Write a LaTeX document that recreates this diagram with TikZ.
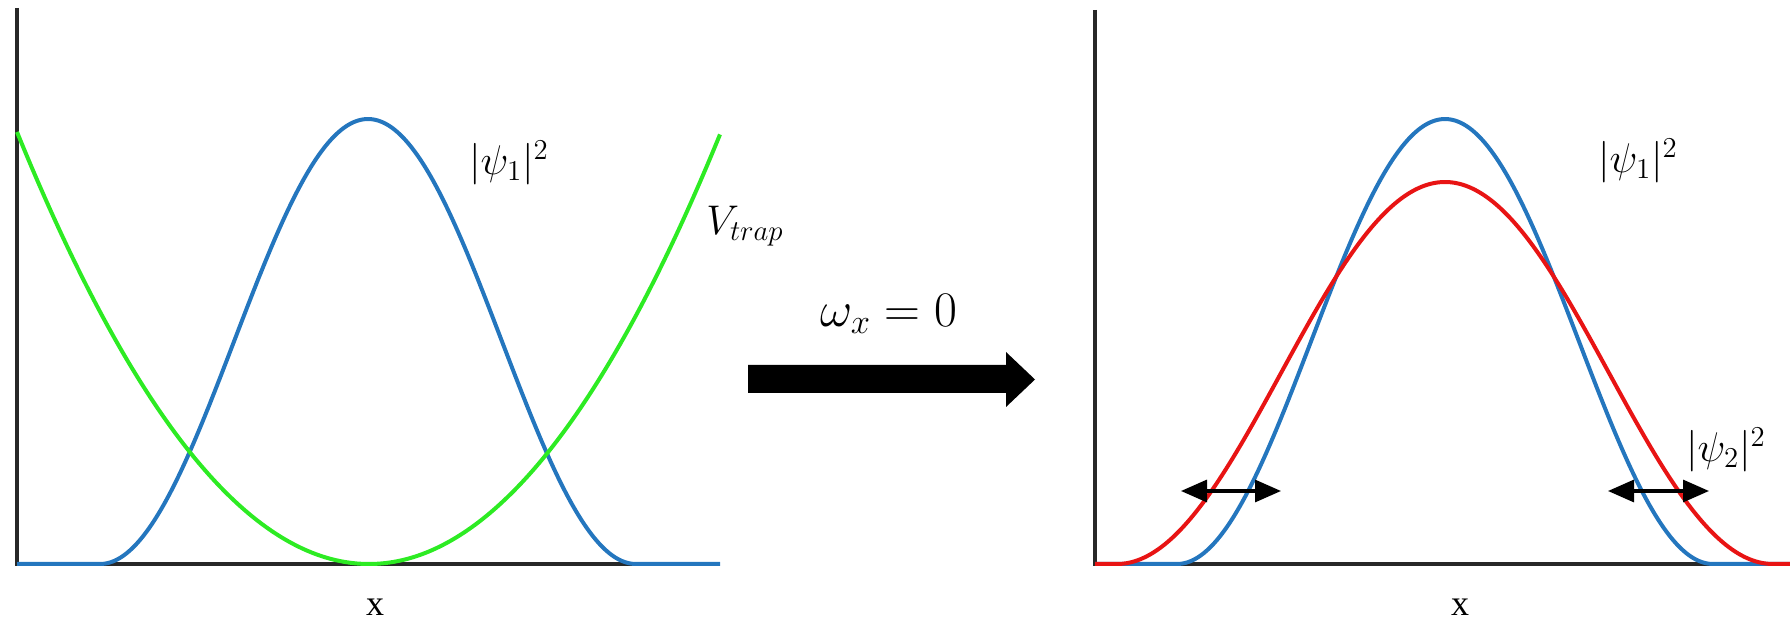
\documentclass[tikz,border=0pt]{standalone}
\usepackage{fontspec}
\usetikzlibrary{arrows.meta}
\newfontfamily\timesfont{Liberation Serif}
\definecolor{psiblue}{RGB}{36,118,190}
\definecolor{trapgreen}{RGB}{45,235,35}
\definecolor{psired}{RGB}{232,20,20}
\definecolor{axisgray}{RGB}{40,40,40}
\tikzset{
  axisline/.style={draw=axisgray, line width=2pt},
  curve/.style={line width=2pt, line join=round},
  mathlabel/.style={inner sep=0pt, font=\fontsize{21}{24}\selectfont},
  xlabel/.style={inner sep=0pt, font=\fontsize{18}{20}\selectfont\timesfont},
  spread/.style={line width=1.6pt, {Triangle[length=13pt,width=11pt]}-{Triangle[length=13pt,width=11pt]}}
}
\begin{document}
\begin{tikzpicture}[x=0.5pt, y=-0.5pt]
\useasboundingbox (0,0) rectangle (1790,625);
% ---------- left panel ----------
\coordinate (LO) at (17,564);
\coordinate (LT) at (17,8);
\coordinate (LR) at (720,564);
\draw[axisline] (LT) -- (LO) -- (LR);
\draw[curve, psiblue] (17,564) -- (100,564)
  -- plot[domain=100:636, samples=120, smooth] (\x,{564-222.5*(1+cos(((\x-368)/268)*180))})
  -- (720,564);
\draw[curve, trapgreen] plot[domain=17:720, samples=100, smooth] (\x,{564-432*((\x-369)/352)*((\x-369)/352)});
\node[mathlabel] (psiL) at (509,163) {$|\psi_1|^2$};
\node[mathlabel] (vtrap) at (745,226) {$V_{trap}$};
\node[xlabel] (xL) at (375,607) {x};
% ---------- middle arrow ----------
\fill[black] (748,365) -- (1006,365) -- (1006,352) -- (1035,379.5) -- (1006,407) -- (1006,393) -- (748,393) -- cycle;
\node[mathlabel, font=\fontsize{24}{27}\selectfont] (omega) at (889,314) {$\omega_x = 0$};
% ---------- right panel ----------
\coordinate (RO) at (1095,564);
\coordinate (RT) at (1095,10);
\coordinate (RR) at (1790,564);
\draw[axisline] (RT) -- (RO) -- (RR);
\draw[curve, psiblue] (1095,564) -- (1177,564)
  -- plot[domain=1177:1713, samples=120, smooth] (\x,{564-222.5*(1+cos(((\x-1445)/268)*180))})
  -- (1790,564);
\draw[curve, psired] (1095,564) -- (1117,564)
  -- plot[domain=1117:1773, samples=140, smooth] (\x,{564-191*(1+cos(((\x-1445)/328)*180))})
  -- (1790,564);
\node[mathlabel] (psiR1) at (1638,161) {$|\psi_1|^2$};
\node[mathlabel] (psiR2) at (1726,450) {$|\psi_2|^2$};
\coordinate (aLl) at (1181,491);
\coordinate (aLr) at (1281,491);
\coordinate (aRl) at (1608,491);
\coordinate (aRr) at (1709,491);
\draw[spread] (aLl) -- (aLr);
\draw[spread] (aRl) -- (aRr);
\node[xlabel] (xR) at (1460,607) {x};
\end{tikzpicture}
\end{document}
